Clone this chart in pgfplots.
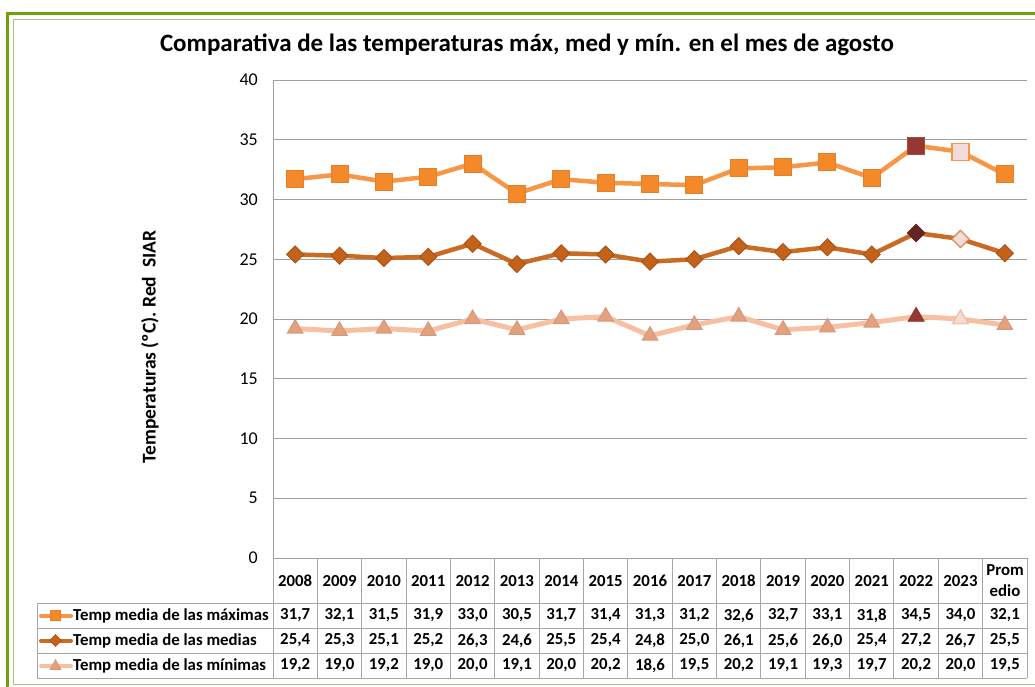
\documentclass[border=0pt]{standalone}
\usepackage{pgfplots}
\pgfplotsset{compat=1.18}
\usepackage{pgfplotstable}
\usepackage{fontspec}
\setmainfont{Carlito}

\definecolor{maxline}{HTML}{F79646}
\definecolor{maxfill}{HTML}{F4892A}
\definecolor{maxdraw}{HTML}{E57F2C}
\definecolor{medline}{HTML}{C96B22}
\definecolor{medfill}{HTML}{C4621A}
\definecolor{meddraw}{HTML}{A9561A}
\definecolor{minline}{HTML}{F8C0A3}
\definecolor{minfill}{HTML}{E2A27F}
\definecolor{mindraw}{HTML}{D8987A}
\definecolor{dkred}{HTML}{953735}
\definecolor{dkred2}{HTML}{632523}
\definecolor{pale}{HTML}{F2DCDB}
\definecolor{gout}{HTML}{6FA10A}
\definecolor{gin}{HTML}{A6C27E}
\definecolor{gridgray}{HTML}{A0A0A0}
\definecolor{tabgray}{HTML}{A6A6A6}

\pgfplotstableread{
x max med min
0  31.7 25.4 19.2
1  32.1 25.3 19.0
2  31.5 25.1 19.2
3  31.9 25.2 19.0
4  33.0 26.3 20.0
5  30.5 24.6 19.1
6  31.7 25.5 20.0
7  31.4 25.4 20.2
8  31.3 24.8 18.6
9  31.2 25.0 19.5
10 32.6 26.1 20.2
11 32.7 25.6 19.1
12 33.1 26.0 19.3
13 31.8 25.4 19.7
14 34.5 27.2 20.2
15 34.0 26.7 20.0
16 32.1 25.5 19.5
}\data

\begin{document}
\begin{tikzpicture}[x=1pt,y=1pt]
\useasboundingbox (0,0) rectangle (1035,-687);
% green frame
\begin{scope}
\clip (0,0) rectangle (1035,-687);
\draw[gout, line width=3pt] (7.5,-13.5) rectangle (1050,-700);
\draw[gin, line width=1.4pt] (13.5,-19.5) rectangle (1042,-684.5);
\end{scope}

\node[font=\bfseries\fontsize{25}{28}\selectfont] at (527,-45) {Comparativa de las temperaturas máx, med y mín. en el mes de agosto};
\node[font=\bfseries\fontsize{19.5}{22}\selectfont, rotate=90] at (150,-347) {Temperaturas (ºC). Red\ \ SIAR};

\begin{axis}[
  at={(273pt,-558pt)}, anchor=south west,
  scale only axis, width=754pt, height=478pt,
  xmin=-0.5, xmax=16.5, ymin=0, ymax=40,
  ytick={0,5,...,40}, xtick=\empty,
  ymajorgrids, grid style={draw=gridgray, line width=1pt},
  axis x line*=bottom, axis y line*=left,
  axis line style={draw=gridgray, line width=1pt, -},
  major tick length=0pt,
  /pgf/number format/assume math mode=true,
  yticklabel style={font=\fontsize{18}{20}\selectfont, inner sep=0pt, xshift=-15pt},
  clip=false,
]
\addplot[maxline, line width=4.5pt, mark=square*, mark size=8.5pt,
  mark options={fill=maxfill, draw=maxdraw, line width=1pt}] table[x=x, y=max] \data;
\addplot[only marks, mark=square*, mark size=8.5pt, mark options={fill=dkred, draw=dkred!80!maxline, line width=1pt}] coordinates {(14,34.5)};
\addplot[only marks, mark=square*, mark size=8.5pt, mark options={fill=pale, draw=maxline, line width=1.2pt}] coordinates {(15,34.0)};

\addplot[medline, line width=4.5pt, mark=square*, mark size=6pt,
  mark options={rotate=45, fill=medfill, draw=meddraw, line width=1pt}] table[x=x, y=med] \data;
\addplot[only marks, mark=square*, mark size=6pt, mark options={rotate=45, fill=dkred2, draw=dkred2, line width=1pt}] coordinates {(14,27.2)};
\addplot[only marks, mark=square*, mark size=6pt, mark options={rotate=45, fill=pale, draw=medline!70!white, line width=1.2pt}] coordinates {(15,26.7)};

\addplot[minline, line width=5pt, mark=triangle*, mark size=9pt,
  mark options={fill=minfill, draw=mindraw, line width=1pt}] table[x=x, y=min] \data;
\addplot[only marks, mark=triangle*, mark size=9pt, mark options={fill=dkred, draw=dkred, line width=1pt}] coordinates {(14,20.2)};
\addplot[only marks, mark=triangle*, mark size=9pt, mark options={fill=pale, draw=minline, line width=1.2pt}] coordinates {(15,20.0)};
\end{axis}

% data table
\begin{scope}
\draw[tabgray, line width=1pt] (37,-603) -- (1027,-603);
\draw[tabgray, line width=1pt] (37,-628) -- (1027,-628);
\draw[tabgray, line width=1pt] (37,-653) -- (1027,-653);
\draw[tabgray, line width=1pt] (37,-678) -- (1027,-678);
\draw[tabgray, line width=1pt] (37,-603) -- (37,-678);
\foreach \k in {0,...,17}{
  \pgfmathsetmacro\bx{273+44.353*\k}
  \draw[tabgray, line width=1pt] (\bx,-558) -- (\bx,-678);
}
\tikzset{cell/.style={font=\bfseries\fontsize{16.8}{18}\selectfont, inner sep=0pt}}
\pgfkeys{/pgf/number format/.cd, fixed, fixed zerofill, precision=1, use comma, assume math mode=true}
\foreach \yy [count=\i from 0] in {2008,...,2023}{
  \pgfmathsetmacro\cx{273+44.353*(\i+0.5)}
  \node[cell] at (\cx,-581) {\yy};
}
\node[cell, align=center, font=\bfseries\fontsize{16.8}{21}\selectfont] at (1005,-581) {Prom\\edio};
\foreach \i in {0,...,16}{
  \pgfmathsetmacro\cx{273+44.353*(\i+0.5)}
  \pgfplotstablegetelem{\i}{max}\of\data \let\vmax\pgfplotsretval
  \pgfplotstablegetelem{\i}{med}\of\data \let\vmed\pgfplotsretval
  \pgfplotstablegetelem{\i}{min}\of\data \let\vmin\pgfplotsretval
  \node[cell] at (\cx,-615.5) {\pgfmathprintnumber{\vmax}};
  \node[cell] at (\cx,-640.5) {\pgfmathprintnumber{\vmed}};
  \node[cell] at (\cx,-665.5) {\pgfmathprintnumber{\vmin}};
}
% legend keys
\draw[maxline, line width=4pt, line cap=round] (41,-615.5) -- (71,-615.5);
\filldraw[fill=maxfill, draw=maxdraw, line width=0.6pt] (50.5,-610.5) rectangle (60.5,-620.5);
\draw[medline, line width=4pt, line cap=round] (41,-640.5) -- (71,-640.5);
\filldraw[fill=medfill, draw=meddraw, line width=0.6pt] (55.5,-634.5) -- (61.5,-640.5) -- (55.5,-646.5) -- (49.5,-640.5) -- cycle;
\draw[minline, line width=4pt, line cap=round] (41,-665.5) -- (71,-665.5);
\filldraw[fill=minfill, draw=mindraw, line width=0.6pt] (55.5,-659.5) -- (61,-669.5) -- (50,-669.5) -- cycle;
\node[cell, anchor=west] at (73,-615.5) {Temp media de las máximas};
\node[cell, anchor=west] at (73,-640.5) {Temp media de las medias};
\node[cell, anchor=west] at (73,-665.5) {Temp media de las mínimas};
\end{scope}
\end{tikzpicture}
\end{document}
